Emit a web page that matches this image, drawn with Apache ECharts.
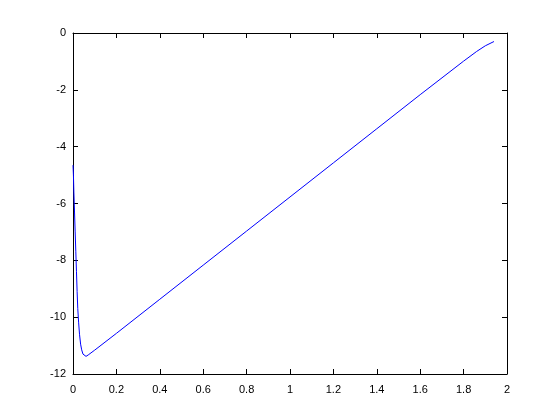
<!DOCTYPE html>
<html>
<head>
<meta charset="utf-8">
<script src="https://cdn.jsdelivr.net/npm/echarts@6/dist/echarts.min.js"></script>
<style>
  html, body { margin: 0; padding: 0; background: #fff; }
  #chart { width: 560px; height: 420px; }
</style>
</head>
<body>
<div id="chart"></div>
<script>
// values
var xs = [0.000, 0.002, 0.004, 0.007, 0.010, 0.013, 0.016, 0.019, 0.022, 0.026,
          0.030, 0.035, 0.040, 0.046, 0.053, 0.060, 0.070, 0.100, 0.200, 0.400,
          0.600, 0.800, 1.000, 1.200, 1.400, 1.600, 1.800, 1.860, 1.900, 1.940];
var ys = [-4.65, -5.0, -5.6, -6.3, -7.0, -7.7, -8.4, -9.1, -9.7, -10.2,
          -10.6, -10.95, -11.15, -11.3, -11.37, -11.38, -11.33, -11.16, -10.57, -9.37,
          -8.17, -6.97, -5.77, -4.57, -3.37, -2.17, -0.99, -0.65, -0.45, -0.30];

var xMin = 0, xMax = 2, xStep = 0.2;
var yMin = -12, yMax = 0, yStep = 2;

var chart = echarts.init(document.getElementById("chart"));

var points = [];
for (var i = 0; i < xs.length; i++) {
  points.push([xs[i], ys[i]]);
}

var labelFont = {
  color: "#000",
  fontFamily: "Liberation Sans",
  fontSize: 11,
};

function baseAxis(pos, showLabel, margin) {
  return {
    type: "value",
    position: pos,
    axisLine: { show: true, onZero: false, lineStyle: { color: "#000", width: 1 } },
    axisTick: { show: true, inside: true, length: 5, lineStyle: { color: "#000" } },
    splitLine: { show: false },
    axisLabel: Object.assign({ show: showLabel, margin: margin }, labelFont),
  };
}

var xBottom = Object.assign(baseAxis("bottom", true, 10), {
  min: xMin, max: xMax, interval: xStep,
});
xBottom.axisLabel.formatter = function (v) {
  return String(Math.round(v * 10) / 10);
};
var xTop = Object.assign(baseAxis("top", false, 8), {
  min: xMin, max: xMax, interval: xStep,
});
var yLeft = Object.assign(baseAxis("left", true, 7), {
  min: yMin, max: yMax, interval: yStep,
});
var yRight = Object.assign(baseAxis("right", false, 8), {
  min: yMin, max: yMax, interval: yStep,
});

var option = {
  animation: false,
  backgroundColor: "#fff",
  grid: { left: 73, right: 53, top: 33, bottom: 46 },
  xAxis: [xBottom, xTop],
  yAxis: [yLeft, yRight],
  series: [
    {
      type: "line",
      data: points,
      showSymbol: false,
      smooth: false,
      lineStyle: { color: "#0000ff", width: 1 },
      itemStyle: { color: "#0000ff" },
    },
  ],
};

chart.setOption(option);
</script>
</body>
</html>
